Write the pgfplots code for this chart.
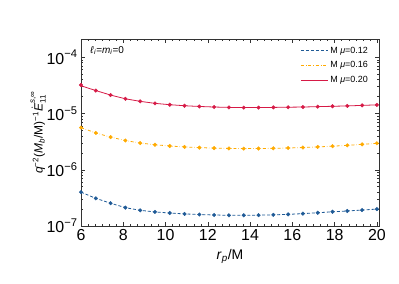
\documentclass[border=0pt]{standalone}
\usepackage{pgfplots}
\pgfplotsset{compat=1.18}
\usepackage{amsmath}
\usepackage{fontspec}
\setmainfont{Liberation Sans}
\usetikzlibrary{calc}
\definecolor{cblue}{RGB}{31,90,150}
\definecolor{corange}{RGB}{255,170,0}
\definecolor{cred}{RGB}{214,26,70}
\begin{document}
\begin{tikzpicture}
\begin{axis}[
  scale only axis, width=298bp, height=187bp,
  xmin=6, xmax=20.1, ymode=log, ymin=1e-7, ymax=2.1e-4,
  xtick={6,8,...,20}, minor x tick num=5,
  ytick={1e-7,1e-6,1e-5,1e-4},
  yticklabels={10\textsuperscript{−7},10\textsuperscript{−6},10\textsuperscript{−5},10\textsuperscript{−4}},
  tick align=inside, tick pos=both,
  major tick length=4bp, minor tick length=2bp,
  /pgf/number format/assume math mode=true,
  ticklabel style={font=\fontsize{16}{18}\selectfont},
  xlabel={\textit{r}\textsubscript{\textit{p}}/M},
  xlabel style={font=\fontsize{14}{16}\selectfont, yshift=-2bp},
  ylabel={\textit{q}\textsuperscript{−2}(\textit{M}\textsubscript{\textit{b}}/M)\textsuperscript{−1}$\dot{\text{\textit{E}}}^{\text{\textit{s},∞}}_{\text{11}}$},
  ylabel style={font=\fontsize{12}{14}\selectfont, yshift=-6bp},
  legend style={draw=none, fill=none, at={(0.98,0.98)}, anchor=north east, font=\fontsize{9}{11}\selectfont, row sep=3bp},
  legend cell align=left,
  legend image code/.code={\draw[#1] (0cm,0cm) -- (0.95cm,0cm);},
  axis line style={line width=0.8pt, black!80},
  every tick/.style={black!80},
  clip=false,
]
\addplot[cblue, densely dashed, thick, no marks] coordinates {
(6,4.0e-7)(6.7,3.1e-7)(7.4,2.54e-7)(8.1,2.12e-7)(8.8,1.90e-7)(9.5,1.78e-7)(10.2,1.70e-7)(10.9,1.64e-7)(11.6,1.60e-7)(12.3,1.57e-7)(13.0,1.55e-7)(13.7,1.55e-7)(14.4,1.56e-7)(15.1,1.58e-7)(15.8,1.61e-7)(16.5,1.66e-7)(17.2,1.72e-7)(17.9,1.79e-7)(18.6,1.85e-7)(19.3,1.92e-7)(20.0,2.0e-7)};
\addlegendentry{M \textit{μ}=0.12}
\addplot[corange, dash dot, thick, no marks] coordinates {
(6,5.6e-6)(6.7,4.5e-6)(7.4,3.8e-6)(8.1,3.3e-6)(8.8,2.98e-6)(9.5,2.78e-6)(10.2,2.64e-6)(10.9,2.54e-6)(11.6,2.47e-6)(12.3,2.42e-6)(13.0,2.39e-6)(13.7,2.37e-6)(14.4,2.38e-6)(15.1,2.40e-6)(15.8,2.43e-6)(16.5,2.48e-6)(17.2,2.54e-6)(17.9,2.62e-6)(18.6,2.71e-6)(19.3,2.82e-6)(20.0,2.95e-6)};
\addlegendentry{M \textit{μ}=0.16}
\addplot[cred, thick, no marks] coordinates {
(6,3.1e-5)(6.7,2.55e-5)(7.4,2.12e-5)(8.1,1.82e-5)(8.8,1.64e-5)(9.5,1.51e-5)(10.2,1.43e-5)(10.9,1.37e-5)(11.6,1.33e-5)(12.3,1.30e-5)(13.0,1.28e-5)(13.7,1.27e-5)(14.4,1.27e-5)(15.1,1.28e-5)(15.8,1.29e-5)(16.5,1.30e-5)(17.2,1.32e-5)(17.9,1.34e-5)(18.6,1.36e-5)(19.3,1.39e-5)(20.0,1.42e-5)};
\addlegendentry{M \textit{μ}=0.20}
\addplot[cblue, only marks, mark=*, mark size=1.8pt, forget plot] coordinates {
(6,4.0e-7)(6.7,3.1e-7)(7.4,2.54e-7)(8.1,2.12e-7)(8.8,1.90e-7)(9.5,1.78e-7)(10.2,1.70e-7)(10.9,1.64e-7)(11.6,1.60e-7)(12.3,1.57e-7)(13.0,1.55e-7)(13.7,1.55e-7)(14.4,1.56e-7)(15.1,1.58e-7)(15.8,1.61e-7)(16.5,1.66e-7)(17.2,1.72e-7)(17.9,1.79e-7)(18.6,1.85e-7)(19.3,1.92e-7)(20.0,2.0e-7)};
\addplot[corange, only marks, mark=*, mark size=1.8pt, forget plot] coordinates {
(6,5.6e-6)(6.7,4.5e-6)(7.4,3.8e-6)(8.1,3.3e-6)(8.8,2.98e-6)(9.5,2.78e-6)(10.2,2.64e-6)(10.9,2.54e-6)(11.6,2.47e-6)(12.3,2.42e-6)(13.0,2.39e-6)(13.7,2.37e-6)(14.4,2.38e-6)(15.1,2.40e-6)(15.8,2.43e-6)(16.5,2.48e-6)(17.2,2.54e-6)(17.9,2.62e-6)(18.6,2.71e-6)(19.3,2.82e-6)(20.0,2.95e-6)};
\addplot[cred, only marks, mark=*, mark size=1.8pt, forget plot] coordinates {
(6,3.2e-5)(6.7,2.55e-5)(7.4,2.12e-5)(8.1,1.82e-5)(8.8,1.64e-5)(9.5,1.51e-5)(10.2,1.43e-5)(10.9,1.37e-5)(11.6,1.33e-5)(12.3,1.30e-5)(13.0,1.28e-5)(13.7,1.27e-5)(14.4,1.27e-5)(15.1,1.28e-5)(15.8,1.29e-5)(16.5,1.30e-5)(17.2,1.32e-5)(17.9,1.34e-5)(18.6,1.36e-5)(19.3,1.39e-5)(20.0,1.42e-5)};
\node[anchor=north west, font=\fontsize{10}{12}\selectfont] at (axis description cs:0.02,0.98) {\textit{ℓ}\textsubscript{\textit{i}}=\textit{m}\textsubscript{\textit{i}}=0};
\end{axis}
\useasboundingbox ($(current axis.south west)+(-81bp,-57bp)$) rectangle ($(current axis.north east)+(20bp,39bp)$);
\end{tikzpicture}
\end{document}
